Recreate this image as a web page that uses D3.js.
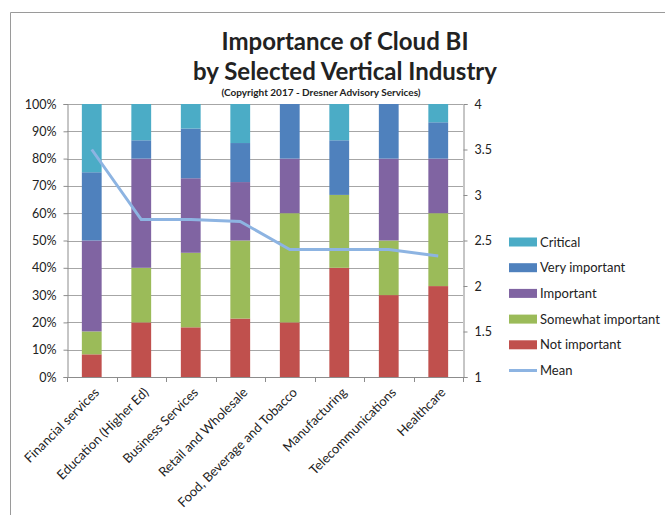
<!DOCTYPE html>
<html>
<head>
<meta charset="utf-8">
<script src="https://cdn.jsdelivr.net/npm/d3@7"></script>
<style>
  body { margin: 0; background: #fff; }
  text { font-family: Lato, "Open Sans", sans-serif; fill: #222; }
</style>
</head>
<body>
<div id="myChart"></div>
<script>
let industries = ['Financial services', 'Education (Higher Ed)', 'Business Services', 'Retail and Wholesale',
    'Food, Beverage and Tobacco', 'Manufacturing', 'Telecommunications', 'Healthcare'];
let levels = ['Not important', 'Somewhat important', 'Important', 'Very important', 'Critical'];
let colors = ['#C0504D', '#9BBB59', '#8064A2', '#4F81BD', '#4BACC6'];

// percent of respondents per level, one array per level
let notImportant = [8.3, 20, 18.2, 21.4, 20, 40, 30, 33.3];
let somewhatImportant = [8.4, 20, 27.3, 28.6, 40, 26.7, 20, 26.7];
let important = [33.3, 40, 27.3, 21.4, 20, 0, 30, 20];
let veryImportant = [25, 6.7, 18.2, 14.3, 20, 20, 20, 13.3];
let critical = [25, 13.3, 9.1, 14.3, 0, 13.3, 0, 6.7];
let mean = [3.5, 2.73, 2.73, 2.71, 2.4, 2.4, 2.4, 2.33];

let pctTicks = [0, 10, 20, 30, 40, 50, 60, 70, 80, 90, 100];
let meanTicks = [1, 1.5, 2, 2.5, 3, 3.5, 4];

let W = 665, H = 515;
let margin = { left: 67, right: 463, top: 104, bottom: 377 };

let svg = d3.select('#myChart').append('svg')
    .attr('width', W)
    .attr('height', H);

// frame
svg.append('path')
    .attr('d', 'M10.5,' + H + 'V12.5H' + W)
    .attr('fill', 'none')
    .attr('stroke', '#9a9a9a');

let x = d3.scaleBand().domain(industries).range([margin.left, margin.right]).paddingInner(0.6).paddingOuter(0.3);
let y = d3.scaleLinear().domain([0, 100]).range([margin.bottom, margin.top]);
let y2 = d3.scaleLinear().domain([1, 4]).range([margin.bottom, margin.top]);

// gridlines
svg.append('g').selectAll('line')
    .data(pctTicks.slice(1))
    .enter().append('line')
    .attr('x1', margin.left).attr('x2', margin.right)
    .attr('y1', (d) => Math.round(y(d)) + 0.5)
    .attr('y2', (d) => Math.round(y(d)) + 0.5)
    .attr('stroke', '#a6a6a6');

// stack the bars
let rows = industries.map((ind, i) => ({
    industry: ind,
    'Not important': notImportant[i],
    'Somewhat important': somewhatImportant[i],
    'Important': important[i],
    'Very important': veryImportant[i],
    'Critical': critical[i]
}));
let series = d3.stack().keys(levels)(rows);

svg.append('g').selectAll('g')
    .data(series)
    .enter().append('g')
    .attr('fill', (d, i) => colors[i])
    .selectAll('rect')
    .data((d) => d)
    .enter().append('rect')
    .attr('x', (d) => x(d.data.industry))
    .attr('width', x.bandwidth())
    .attr('y', (d) => y(Math.min(100, d[1])))
    .attr('height', (d) => y(d[0]) - y(Math.min(100, d[1])));

// left axis
let yAxis = svg.append('g')
    .attr('transform', 'translate(' + (margin.left + 0.5) + ',0)')
    .call(d3.axisLeft(y).tickValues(pctTicks).tickFormat((d) => d + '%').tickSizeOuter(0).tickSize(4).tickPadding(7));
yAxis.selectAll('text').style('font-size', '12.5px').attr('fill', '#333');

// right axis
let y2Axis = svg.append('g')
    .attr('transform', 'translate(' + (margin.right + 0.5) + ',0)')
    .call(d3.axisRight(y2).tickValues(meanTicks).tickFormat(d3.format('')).tickSizeOuter(0).tickSize(4).tickPadding(7));
y2Axis.selectAll('text').style('font-size', '12.5px').attr('fill', '#333');

// bottom axis, ticks between categories
let bAxis = svg.append('g');
bAxis.append('line')
    .attr('x1', margin.left).attr('x2', margin.right + 4)
    .attr('y1', margin.bottom + 0.5).attr('y2', margin.bottom + 0.5)
    .attr('stroke', '#8c8c8c');
bAxis.selectAll('.tick')
    .data(d3.range(industries.length + 1))
    .enter().append('line')
    .attr('x1', (i) => Math.round(margin.left + i * x.step()) + 0.5)
    .attr('x2', (i) => Math.round(margin.left + i * x.step()) + 0.5)
    .attr('y1', margin.bottom)
    .attr('y2', margin.bottom + 5)
    .attr('stroke', '#8c8c8c');

svg.selectAll('.domain, .tick line').attr('stroke', '#8c8c8c');

// category labels
svg.append('g').selectAll('text')
    .data(industries)
    .enter().append('text')
    .attr('transform', (d) => 'translate(' + (x(d) + x.bandwidth() / 2 + 5) + ',' + (margin.bottom + 13) + ') rotate(-45)')
    .attr('text-anchor', 'end')
    .attr('dy', '0.35em')
    .style('font-size', '13px')
    .text((d) => d);

// mean line
let line = d3.line()
    .x((d, i) => x(industries[i]) + x.bandwidth() / 2)
    .y((d) => y2(d));
svg.append('path')
    .datum(mean)
    .attr('d', line)
    .attr('fill', 'none')
    .attr('stroke', '#8DB4E2')
    .attr('stroke-width', 3);

// titles
svg.append('text')
    .attr('x', 345).attr('y', 50)
    .attr('text-anchor', 'middle')
    .style('font-size', '24px').style('font-weight', 'bold')
    .text('Importance of Cloud BI');
svg.append('text')
    .attr('x', 345).attr('y', 80)
    .attr('text-anchor', 'middle')
    .style('font-size', '24px').style('font-weight', 'bold')
    .text('by Selected Vertical Industry');
svg.append('text')
    .attr('x', 321).attr('y', 96)
    .attr('text-anchor', 'middle')
    .style('font-size', '10px').style('font-weight', 'bold')
    .text('(Copyright 2017 - Dresner Advisory Services)');

// legend
let legendItems = levels.slice().reverse().concat(['Mean']);
let legendColors = colors.slice().reverse().concat(['#8DB4E2']);
let legend = svg.append('g').attr('transform', 'translate(509,242)');
let li = legend.selectAll('g')
    .data(legendItems)
    .enter().append('g')
    .attr('transform', (d, i) => 'translate(0,' + i * 25.7 + ')');
li.append('rect')
    .attr('x', 0)
    .attr('y', (d) => d === 'Mean' ? -1.5 : -4.5)
    .attr('width', 28)
    .attr('height', (d) => d === 'Mean' ? 3 : 9)
    .attr('fill', (d, i) => legendColors[i]);
li.append('text')
    .attr('x', 31)
    .attr('dy', '0.35em')
    .style('font-size', '13px')
    .text((d) => d);
</script>
</body>
</html>
